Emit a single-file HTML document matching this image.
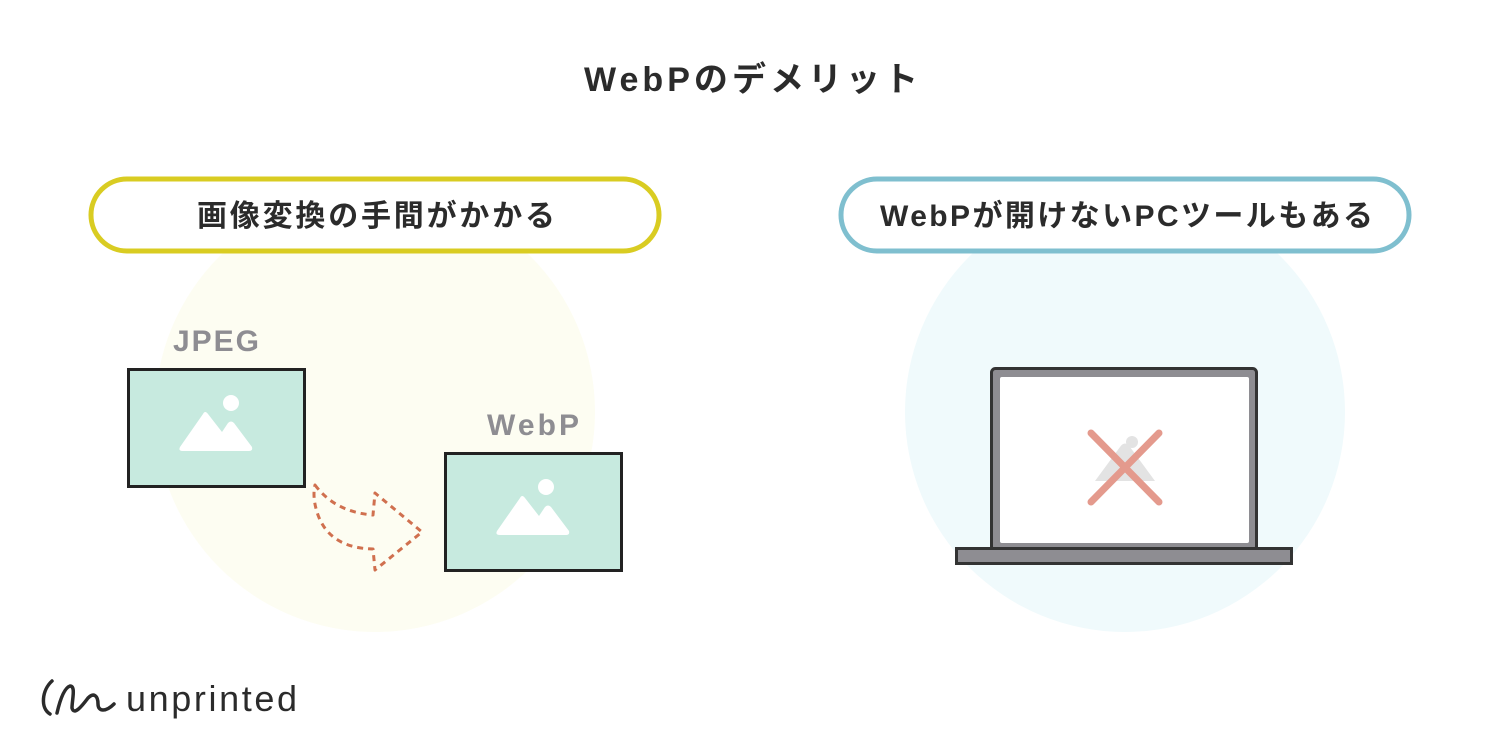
<!DOCTYPE html>
<html><head><meta charset="utf-8"><style>
html,body{margin:0;padding:0;background:#fff;}
svg{display:block;}
text{font-family:"Liberation Sans","Noto Sans CJK JP",sans-serif;font-weight:bold;}
</style></head><body>
<svg width="1500" height="750" viewBox="0 0 1500 750" xmlns="http://www.w3.org/2000/svg">
<rect width="1500" height="750" fill="#fff"/>
<text x="584" y="91" font-size="34" fill="#2b2b2b" textLength="334" lengthAdjust="spacing">WebPのデメリット</text>
<circle cx="375" cy="412" r="220" fill="#fdfdf2"/>
<circle cx="1125" cy="412" r="220" fill="#f0fafc"/>
<rect x="91" y="179" width="568" height="72" rx="36" fill="#fff" stroke="#d9cc22" stroke-width="5"/>
<rect x="841" y="179" width="568" height="72" rx="36" fill="#fff" stroke="#7fbfcf" stroke-width="5"/>
<text x="197" y="226" font-size="30" fill="#2b2b2b" textLength="358" lengthAdjust="spacing">画像変換の手間がかかる</text>
<text x="880" y="226" font-size="30" fill="#2b2b2b" textLength="493" lengthAdjust="spacing">WebPが開けないPCツールもある</text>
<text x="173" y="351" font-size="30" fill="#8e8d92" textLength="86" lengthAdjust="spacing">JPEG</text>
<text x="487" y="435" font-size="30" fill="#8e8d92" textLength="92" lengthAdjust="spacing">WebP</text>
<rect x="128.5" y="369.5" width="176" height="117" fill="#c7eadf" stroke="#222" stroke-width="3"/>
<circle cx="231" cy="403" r="8" fill="#fff"/>
<path d="M180 447 L203 414 Q205 410 208 414 L222 432 L228 423 Q231 420 234 423 L252 447 Q253 451 249 451 L183 451 Q178 451 180 447Z" fill="#fff"/>
<rect x="445.5" y="453.5" width="176" height="117" fill="#c7eadf" stroke="#222" stroke-width="3"/>
<circle cx="546" cy="487" r="8" fill="#fff"/>
<path d="M497 531 L520 498 Q522 494 525 498 L539 516 L545 507 Q548 504 551 507 L569 531 Q570 535 566 535 L500 535 Q495 535 497 531Z" fill="#fff"/>
<path d="M315 485 Q335 512 373 515 L375 493 L422 532 L375 570 L373 549 Q330 548 318 515 Q312 498 315 485Z" fill="none" stroke="#d0704f" stroke-width="3" stroke-dasharray="6 5" stroke-linejoin="round"/>
<rect x="991.5" y="368.5" width="265" height="182" rx="4" fill="#8e8d92" stroke="#333" stroke-width="3"/>
<rect x="1000" y="377" width="249" height="166" rx="2" fill="#fff"/>
<rect x="956.5" y="548.5" width="335" height="15" fill="#8e8d92" stroke="#333" stroke-width="3"/>
<path d="M1095 481 L1120 447 Q1125 440 1130 447 L1155 481Z" fill="#e3e3e3"/>
<circle cx="1132" cy="442" r="6" fill="#e3e3e3"/>
<path d="M1091 433 L1159 502 M1159 433 L1091 502" stroke="#e49a8d" stroke-width="7" stroke-linecap="round"/>
<path d="M52 681 C42 690 40 708 50 714 M57 713 C60 700 64 688 70 686 C76 686 72 700 72 708 C74 716 82 706 88 698 C94 692 98 696 98 704 C98 712 106 712 114 704" fill="none" stroke="#2b2b2b" stroke-width="3.5" stroke-linecap="round" stroke-linejoin="round"/>
<text x="126" y="711" font-size="36" fill="#2b2b2b" style="font-weight:normal" textLength="171" lengthAdjust="spacing">unprinted</text>
</svg>
</body></html>
